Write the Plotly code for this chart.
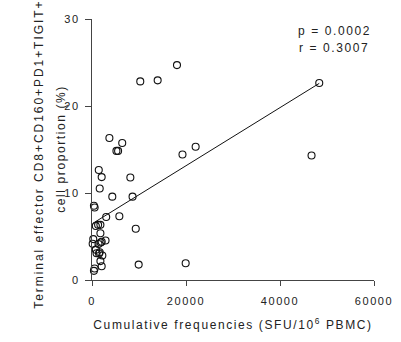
import numpy as np
import plotly.graph_objects as go

# Cumulative IFN-gamma spot frequencies (SFU/10^6 PBMC) per subject
sfu = [18080, 10270, 13970, 48350, 3700, 6430, 5200, 5550, 22050, 19250,
       46710, 1440, 2060, 1640, 8160, 4320, 8630, 410, 560, 3020,
       5820, 9310, 820, 1300, 1790, 1790, 270, 140, 1380, 1850,
       2060, 2880, 820, 970, 1500, 2200, 1640, 1790, 2060, 560,
       410, 9930, 19930]

# Terminal effector CD8+CD160+PD1+TIGIT+ cell proportion (%)
proportion = [24.70, 22.83, 22.95, 22.64, 16.33, 15.74, 14.84, 14.84, 15.32, 14.42,
              14.31, 12.65, 11.83, 10.51, 11.79, 9.58, 9.58, 8.53, 8.34, 7.24,
              7.32, 5.89, 6.20, 6.34, 6.34, 5.37, 4.70, 4.17, 4.13, 4.31,
              4.39, 4.54, 3.49, 3.08, 3.04, 2.82, 3.19, 2.17, 1.58, 1.32,
              1.05, 1.77, 1.92]

x_ticks = [0, 20000, 40000, 60000]
y_ticks = [0, 10, 20, 30]
stats_text = ["p = 0.0002", "r = 0.3007"]

# Least-squares line over the observed x span
slope, intercept = np.polyfit(sfu, proportion, 1)
fit_x = np.array([min(sfu), max(sfu)])
fit_y = slope * fit_x + intercept

FONT = "Arial, Liberation Sans, sans-serif"
INK = "#222222"

fig = go.Figure()
fig.add_trace(go.Scatter(
    x=fit_x, y=fit_y, mode="lines",
    line=dict(color="#111111", width=1),
    hoverinfo="skip", showlegend=False, cliponaxis=False,
))
fig.add_trace(go.Scatter(
    x=sfu, y=proportion, mode="markers",
    marker=dict(symbol="circle-open", size=7, color="#111111",
                line=dict(width=1.1, color="#111111")),
    showlegend=False, cliponaxis=False,
))

fig.update_layout(
    width=401, height=342,
    margin=dict(l=92, r=17, t=19, b=57),
    paper_bgcolor="white", plot_bgcolor="white",
    font=dict(family=FONT, color=INK, size=11),
    xaxis=dict(
        range=[0, 60000], tickvals=x_ticks, ticktext=[str(v) for v in x_ticks],
        showgrid=False, zeroline=False, showline=True, linecolor="#444444", linewidth=1,
        ticks="outside", ticklen=5, tickcolor="#444444", tickwidth=1,
        ticklabelstandoff=6,
        tickfont=dict(family=FONT, size=11, color=INK),
        title=dict(text="Cumulative frequencies (SFU/10<sup>6</sup> PBMC)",
                   font=dict(family=FONT, size=12, color=INK), standoff=14),
    ),
    yaxis=dict(
        range=[0, 30], tickvals=y_ticks, ticktext=[str(v) for v in y_ticks],
        showgrid=False, zeroline=False, showline=True, linecolor="#444444", linewidth=1,
        ticks="outside", ticklen=6, tickcolor="#444444", tickwidth=1,
        ticklabelstandoff=3,
        tickfont=dict(family=FONT, size=11, color=INK),
    ),
)

# Two-line rotated y-axis title (first line sits slightly lower so it fits the page)
y_title_lines = ["Terminal effector CD8+CD160+PD1+TIGIT+", "cell proportion (%)"]
y_title_x = [37.5, 59.0]
y_title_y = [157.0, 152.0]
for i, text in enumerate(y_title_lines):
    fig.add_annotation(
        text=text, textangle=-90, showarrow=False, name="ytitle%d" % i,
        xref="paper", yref="paper",
        x=(y_title_x[i] - 92) / 292, y=(285 - y_title_y[i]) / 266,
        xanchor="center", yanchor="middle",
        font=dict(family=FONT, size=12, color=INK),
    )

# Correlation statistics
for text, ypix in zip(stats_text, [31.0, 48.5]):
    fig.add_annotation(
        text=text, showarrow=False,
        xref="paper", yref="paper", x=(343 - 92) / 292, y=(285 - ypix) / 266,
        xanchor="center", yanchor="middle",
        font=dict(family=FONT, size=12, color=INK),
    )

# Wide letter spacing on all chart text; the long rotated title is spaced a bit more
spacing_js = """
var gd = document.getElementById('{plot_id}');
gd.querySelectorAll('text').forEach(function(t){
  var s = '1.6px';
  if (t.textContent.indexOf('Terminal') === 0) { s = '1.95px'; }
  t.style.letterSpacing = s;
});
"""

fig.write_html("out.html", post_script=spacing_js)
